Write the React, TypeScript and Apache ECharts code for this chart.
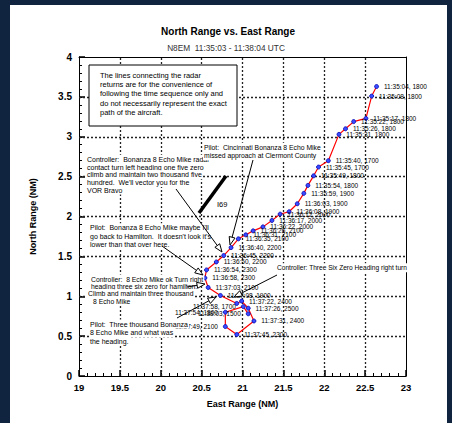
import React, { useEffect, useRef } from 'react';
import * as echarts from 'echarts';

// ---- data ----
const times = [
  '11:35:04', '11:35:08', '11:35:17', '11:35:22', '11:35:26', '11:35:31', '11:35:40', '11:35:45',
  '11:35:49', '11:35:54', '11:35:59', '11:36:03', '11:36:08', '11:36:12', '11:36:17', '11:36:22',
  '11:36:26', '11:36:31', '11:36:35', '11:36:40', '11:36:45', '11:36:50', '11:36:54', '11:36:58',
  '11:37:03', '11:37:08', '11:37:17', '11:37:22', '11:37:26', '11:37:31', '11:37:45', '11:37:49',
  '11:37:54', '11:37:58', '11:38:03',
];
const altitudes = [
  1800, 1800, 1800, 1800, 1800, 1800, 1700, 1700,
  1800, 1800, 1900, 1900, 1900, 2000, 2000, 2000,
  2100, 2100, 2100, 2200, 2200, 2200, 2300, 2300,
  2100, 1900, 2200, 2400, 2500, 2400, 2300, 2100,
  1800, 1700, 1500,
];
const eastRange = [
  22.64, 22.58, 22.51, 22.36, 22.26, 22.18, 22.05, 21.93,
  21.87, 21.80, 21.75, 21.67, 21.57, 21.46, 21.36, 21.25,
  21.13, 21.04, 20.95, 20.86, 20.77, 20.68, 20.56, 20.54,
  20.58, 20.73, 20.93, 20.99, 21.07, 21.14, 20.93, 20.79,
  20.79, 21.01, 21.07,
];
const northRange = [
  3.63, 3.51, 3.23, 3.19, 3.10, 3.03, 2.70, 2.62,
  2.51, 2.39, 2.29, 2.16, 2.06, 2.03, 1.95, 1.87,
  1.82, 1.77, 1.72, 1.61, 1.51, 1.43, 1.33, 1.23,
  1.11, 1.01, 0.91, 0.94, 0.85, 0.69, 0.52, 0.62,
  0.80, 0.87, 0.78,
];
const leftLabelTimes = ['11:37:49', '11:37:54', '11:37:58', '11:38:03'];
const unlabeledTimes = ['11:37:17'];
const xTicks = [19, 19.5, 20, 20.5, 21, 21.5, 22, 22.5, 23];
const yTicks = [0, 0.5, 1, 1.5, 2, 2.5, 3, 3.5, 4];

const noteBox = [
  'The lines connecting the radar',
  'returns are for the convenience of',
  'following the time sequence only and',
  'do not necessarily represent the exact',
  'path of the aircraft.',
];
const noteController1 = [
  'Controller:  Bonanza 8 Echo Mike radar',
  'contact turn left heading one five zero',
  'climb and maintain two thousand five',
  "hundred.  We'll vector you for the",
  'VOR Bravo',
];
const notePilot1 = ['Pilot:  Cincinnati Bonanza 8 Echo Mike', 'missed approach at Clermont County'];
const notePilot2 = [
  "Pilot:  Bonanza 8 Echo Mike maybe I'll",
  "go back to Hamilton.  It doesn't look it's",
  'lower than that over here.',
];
const noteController2 = [
  'Controller:  8 Echo Mike ok Turn right',
  'heading three six zero for hamilton.',
  'Climb and maintain three thousand',
  '8 Echo Mike',
];
const notePilot3 = ['Pilot:  Three thousand Bonanza', '8 Echo Mike and what was', 'the heading.'];
const noteController3 = 'Controller: Three Six Zero Heading right turn';
const roadLabel = 'I69';

const FONT = 'Arial, Liberation Sans, sans-serif';

function arrow(x1: number, y1: number, x2: number, y2: number): any[] {
  const dx = x2 - x1;
  const dy = y2 - y1;
  const len = Math.sqrt(dx * dx + dy * dy);
  const ux = dx / len;
  const uy = dy / len;
  const L = 8;
  const W = 3;
  const bx = x2 - ux * L;
  const by = y2 - uy * L;
  return [
    { type: 'line', z: 100, shape: { x1, y1, x2: bx, y2: by }, style: { stroke: '#000', lineWidth: 1 } },
    {
      type: 'polygon', z: 101,
      shape: { points: [[x2, y2], [bx - uy * W, by + ux * W], [bx + uy * W, by - ux * W]] },
      style: { fill: '#fff', stroke: '#000', lineWidth: 1 },
    },
  ];
}

function textLines(lines: string[], x: number | number[], yTop: number, lh: number, size: number): any[] {
  return lines.map((t, i) => ({
    type: 'text', z: 100,
    x: Array.isArray(x) ? x[i] : x,
    y: yTop + i * lh,
    style: {
      text: t, fill: '#000', fontSize: size, fontFamily: FONT,
      verticalAlign: 'middle', align: 'left', backgroundColor: '#fff', padding: [1, 1],
    },
  }));
}

export default function App() {
  const ref = useRef<HTMLDivElement>(null);
  useEffect(() => {
    if (!ref.current) return;
    const chart = echarts.init(ref.current, undefined, { renderer: 'svg' });
    const seriesData = times.map((t, i) => {
      const item: any = { value: [eastRange[i], northRange[i]] };
      if (unlabeledTimes.includes(t)) item.label = { show: false };
      else if (leftLabelTimes.includes(t)) item.label = { position: 'left' };
      return item;
    });
    const graphics: any[] = [
      {
        type: 'rect', z: 100, shape: { x: 89, y: 65, width: 148, height: 61 },
        style: { fill: '#fff', stroke: '#000', lineWidth: 1 },
      },
      ...noteBox.map((t, i) => ({
        type: 'text', z: 101, x: 100, y: 75 + i * 9.4,
        style: { text: t, fill: '#000', fontSize: 7.5, fontFamily: FONT, verticalAlign: 'middle' },
      })),
      ...textLines(noteController1, 86, 159.3, 7.7, 7),
      ...textLines(notePilot1, 203, 147.3, 8.4, 6.8),
      ...textLines(notePilot2, 89, 227.7, 8.6, 7),
      ...textLines(noteController2, [90, 90, 87, 92], 279, 7.4, 6.8),
      ...textLines(notePilot3, 89, 324, 8.5, 7),
      ...textLines([noteController3], 276, 267.7, 8, 6.6),
      {
        type: 'line', z: 100, shape: { x1: 199, y1: 213, x2: 226, y2: 176 },
        style: { stroke: '#000', lineWidth: 3.5 },
      },
      {
        type: 'text', z: 100, x: 217, y: 204,
        style: { text: roadLabel, fill: '#000', fontSize: 7.5, fontFamily: FONT, verticalAlign: 'middle' },
      },
      ...arrow(176, 189, 222, 252),
      ...arrow(253, 160, 230, 245),
      ...arrow(162, 246, 203, 275),
      ...arrow(187, 287, 205, 284),
      ...arrow(177, 318, 216, 297),
      ...arrow(277, 275, 234, 297),
    ];
    const xMin = xTicks[0];
    const xMax = xTicks[xTicks.length - 1];
    const yMin = yTicks[0];
    const yMax = yTicks[yTicks.length - 1];
    const frameAxis = { axisTick: { show: false }, axisLabel: { show: false }, splitLine: { show: false } };
    chart.setOption({
      animation: false,
      title: [
        {
          text: 'North Range vs. East Range', left: 223, top: 21, textAlign: 'center',
          textStyle: { fontSize: 10, fontWeight: 'bold', color: '#000', fontFamily: FONT },
        },
        {
          text: 'N8EM  11:35:03 - 11:38:04 UTC', left: 221, top: 39, textAlign: 'center',
          textStyle: { fontSize: 8.3, fontWeight: 'normal', color: '#333', fontFamily: FONT },
        },
      ],
      grid: { left: 79, right: 46, top: 57, bottom: 47 },
      xAxis: [
        {
          type: 'value', min: xMin, max: xMax, interval: 0.5,
          name: 'East Range (NM)', nameLocation: 'middle', nameGap: 23,
          nameTextStyle: { fontSize: 9, fontWeight: 'bold', color: '#000', fontFamily: FONT },
          axisLine: { show: true, onZero: false, lineStyle: { color: '#000', width: 1 } },
          axisTick: { show: true, inside: true, length: 6, lineStyle: { color: '#000', width: 1.5 } },
          axisLabel: { fontSize: 9.5, fontWeight: 'bold', color: '#000', margin: 6, fontFamily: FONT },
          splitLine: { show: false },
        },
        {
          type: 'value', position: 'top', min: xMin, max: xMax, interval: 0.5,
          axisLine: { show: true, onZero: false, lineStyle: { color: '#000', width: 1 } },
          ...frameAxis,
        },
        {
          type: 'value', position: 'bottom', min: xMin, max: xMax, interval: 0.1,
          axisLine: { show: false, onZero: false },
          axisTick: { show: true, inside: true, length: 3, lineStyle: { color: '#000', width: 1 } },
          axisLabel: { show: false }, splitLine: { show: false },
        },
      ],
      yAxis: [
        {
          type: 'value', min: yMin, max: yMax, interval: 0.5,
          name: 'North Range (NM)', nameLocation: 'middle', nameGap: 42, nameRotate: 90,
          nameTextStyle: { fontSize: 9, fontWeight: 'bold', color: '#000', fontFamily: FONT },
          axisLine: { show: true, onZero: false, lineStyle: { color: '#000', width: 1 } },
          axisTick: { show: true, inside: true, length: 6, lineStyle: { color: '#000', width: 1.5 } },
          axisLabel: { fontSize: 10, fontWeight: 'bold', color: '#000', margin: 7, fontFamily: FONT },
          splitLine: { show: false },
        },
        {
          type: 'value', position: 'right', min: yMin, max: yMax, interval: 0.5,
          axisLine: { show: true, onZero: false, lineStyle: { color: '#000', width: 1 } },
          ...frameAxis,
        },
        {
          type: 'value', position: 'left', min: yMin, max: yMax, interval: 0.1,
          axisLine: { show: false, onZero: false },
          axisTick: { show: true, inside: true, length: 3, lineStyle: { color: '#000', width: 1 } },
          axisLabel: { show: false }, splitLine: { show: false },
        },
      ],
      series: [
        {
          type: 'line', data: seriesData, z: 5, xAxisIndex: 0, yAxisIndex: 0,
          symbol: 'circle', symbolSize: 4,
          lineStyle: { color: '#ff0000', width: 1.2 },
          itemStyle: { color: '#3a4cff', borderColor: '#0000b0', borderWidth: 0.8 },
          label: {
            show: true, position: 'right', distance: 5, fontSize: 6.5, color: '#000', fontFamily: FONT,
            formatter: (p: any) => `${times[p.dataIndex]}, ${altitudes[p.dataIndex]}`,
          },
          labelLayout: { hideOverlap: false },
          markLine: {
            symbol: 'none', label: { show: false },
            lineStyle: { color: '#222', width: 1.3, type: [2, 2] },
            data: [
              ...xTicks.slice(1, -1).map((v) => ({ xAxis: v })),
              ...yTicks.slice(1, -1).map((v) => ({ yAxis: v })),
            ],
          },
        },
      ],
      graphic: graphics,
    });
    return () => chart.dispose();
  }, []);
  return (
    <div style={{ position: 'fixed', left: 0, top: 0, width: 452, height: 423, background: '#10233f' }}>
      <div style={{ position: 'absolute', left: 10, top: 5, width: 437, height: 418, background: '#fff' }} />
      <div ref={ref} style={{ position: 'absolute', left: 0, top: 0, width: 452, height: 423 }} />
    </div>
  );
}
